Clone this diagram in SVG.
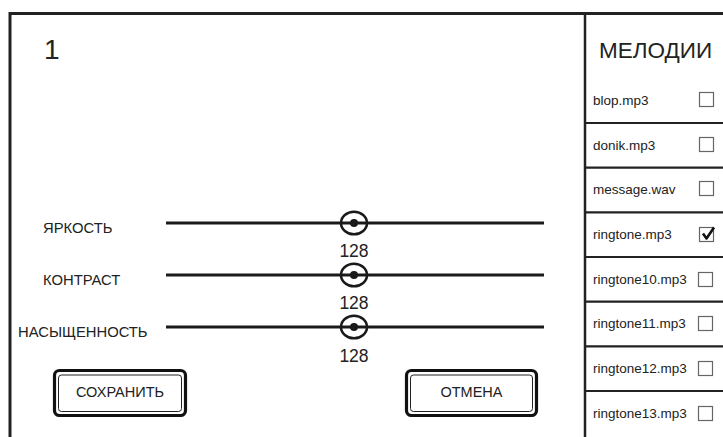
<svg xmlns="http://www.w3.org/2000/svg" width="723" height="437" viewBox="0 0 723 437">
<style>
text{font-family:"Liberation Sans",Arial,sans-serif;fill:#222}
.frame{stroke:#222;stroke-width:3;fill:none}
.sep{stroke:#222;stroke-width:2.2}
.item{font-size:13.5px}
.cb{fill:#fff;stroke:#666;stroke-width:1.2}
.lbl{font-size:14.8px}
.track{stroke:#1a1a1a;stroke-width:3}
.knob{fill:none;stroke:#1a1a1a;stroke-width:2.5}
.val{font-size:17.5px;text-anchor:middle}
.btnO{fill:#fff;stroke:#111;stroke-width:3.2}
.btnI{fill:none;stroke:#222;stroke-width:1}
.btnT{font-size:14.5px;text-anchor:middle}
</style>
<rect width="723" height="437" fill="#fff"/>
<g id="frame">
<path class="frame" d="M10,437 V13.5 H723"/>
<line x1="585" y1="13" x2="585" y2="437" stroke="#222" stroke-width="2.5"/>
</g>
<g id="title"><text x="44" y="59" font-size="28">1</text></g>
<g id="sliders">
<g id="slider-brightness">
<text class="lbl" x="43" y="233">ЯРКОСТЬ</text>
<line class="track" x1="166" y1="223" x2="544" y2="223"/>
<ellipse class="knob" cx="354" cy="223" rx="13" ry="11.3"/>
<circle cx="354" cy="223" r="4" fill="#1a1a1a"/>
<text class="val" x="354" y="257">128</text>
</g>
<g id="slider-contrast">
<text class="lbl" x="43" y="285">КОНТРАСТ</text>
<line class="track" x1="166" y1="275" x2="544" y2="275"/>
<ellipse class="knob" cx="354" cy="275" rx="13" ry="11.3"/>
<circle cx="354" cy="275" r="4" fill="#1a1a1a"/>
<text class="val" x="354" y="309">128</text>
</g>
<g id="slider-saturation">
<text class="lbl" x="18" y="337">НАСЫЩЕННОСТЬ</text>
<line class="track" x1="166" y1="327" x2="544" y2="327"/>
<ellipse class="knob" cx="354" cy="327" rx="13" ry="11.3"/>
<circle cx="354" cy="327" r="4" fill="#1a1a1a"/>
<text class="val" x="354" y="362">128</text>
</g>
</g>
<g id="btn-save">
<rect class="btnO" x="54.5" y="370.5" width="131" height="45" rx="5"/>
<rect class="btnI" x="58.5" y="375" width="123" height="36.5" rx="3"/>
<text class="btnT" x="120" y="397">СОХРАНИТЬ</text>
</g>
<g id="btn-cancel">
<rect class="btnO" x="406.5" y="370.5" width="130" height="45" rx="5"/>
<rect class="btnI" x="410.5" y="375" width="122" height="36.5" rx="3"/>
<text class="btnT" x="471.5" y="397">ОТМЕНА</text>
</g>
<g id="melodies">
<text x="599" y="58" font-size="22.5">МЕЛОДИИ</text>
<g class="sep">
<line x1="586" y1="123" x2="723" y2="123"/>
<line x1="586" y1="167.7" x2="723" y2="167.7"/>
<line x1="586" y1="212.4" x2="723" y2="212.4"/>
<line x1="586" y1="257" x2="723" y2="257"/>
<line x1="586" y1="301.7" x2="723" y2="301.7"/>
<line x1="586" y1="346.4" x2="723" y2="346.4"/>
<line x1="586" y1="391" x2="723" y2="391"/>
</g>
<g id="item-1"><text class="item" x="593" y="105">blop.mp3</text><rect class="cb" x="699.5" y="92.5" width="14" height="14"/></g>
<g id="item-2"><text class="item" x="593" y="150">donik.mp3</text><rect class="cb" x="699.5" y="137.5" width="14" height="14"/></g>
<g id="item-3"><text class="item" x="593" y="194">message.wav</text><rect class="cb" x="699.5" y="181.5" width="14" height="14"/></g>
<g id="item-4"><text class="item" x="593" y="239">ringtone.mp3</text><rect class="cb" x="699.5" y="227.5" width="14" height="14"/><path d="M703,233.5 L706.5,238.5 L714,227.5" fill="none" stroke="#111" stroke-width="2.6" stroke-linejoin="round"/></g>
<g id="item-5"><text class="item" x="593" y="284">ringtone10.mp3</text><rect class="cb" x="698.5" y="272.5" width="14" height="14"/></g>
<g id="item-6"><text class="item" x="593" y="328">ringtone11.mp3</text><rect class="cb" x="698.5" y="316.5" width="14" height="14"/></g>
<g id="item-7"><text class="item" x="593" y="373">ringtone12.mp3</text><rect class="cb" x="698.5" y="361.5" width="14" height="14"/></g>
<g id="item-8"><text class="item" x="593" y="418">ringtone13.mp3</text><rect class="cb" x="698.5" y="406.5" width="14" height="14"/></g>
</g>
</svg>
